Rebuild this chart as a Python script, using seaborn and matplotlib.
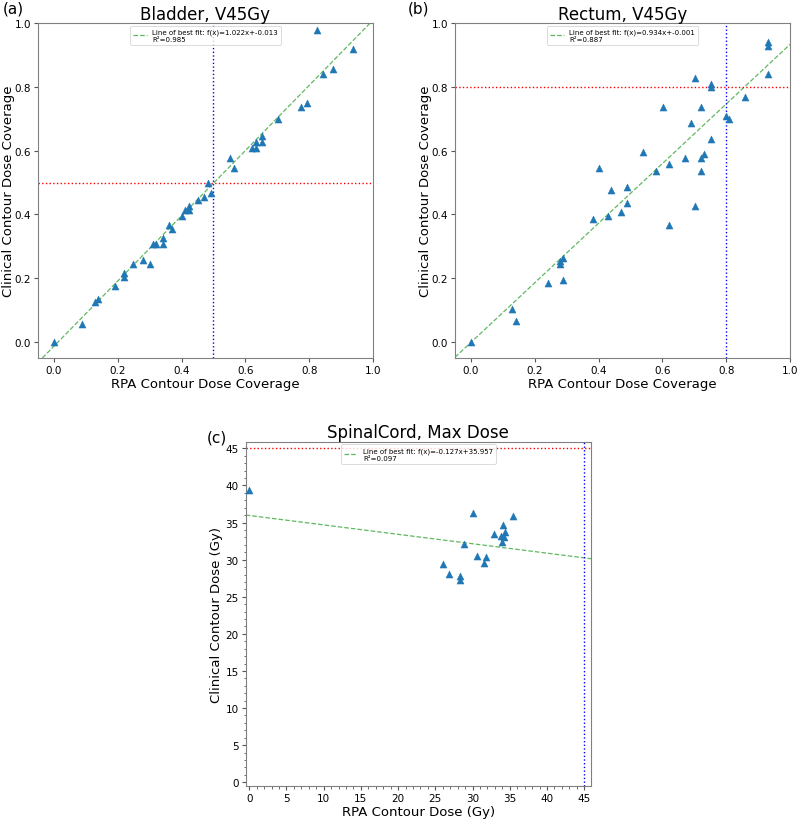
import numpy as np
import pandas as pd
import matplotlib
matplotlib.use("Agg")
import matplotlib.pyplot as plt
import seaborn as sns

# ---- Panel (a) Bladder V45Gy ----
bladder_rpa = [0.0, 0.088, 0.128, 0.139, 0.190, 0.220, 0.220, 0.249, 0.280, 0.300,
               0.310, 0.321, 0.341, 0.341, 0.361, 0.371, 0.402, 0.411, 0.422, 0.422,
               0.451, 0.471, 0.482, 0.492, 0.552, 0.563, 0.622, 0.633, 0.633, 0.653,
               0.653, 0.702, 0.774, 0.794, 0.823, 0.844, 0.875, 0.936]
bladder_clin = [0.0, 0.055, 0.124, 0.134, 0.175, 0.204, 0.215, 0.245, 0.256, 0.245,
                0.306, 0.306, 0.306, 0.326, 0.366, 0.355, 0.395, 0.415, 0.415, 0.426,
                0.445, 0.456, 0.497, 0.466, 0.577, 0.547, 0.607, 0.607, 0.627, 0.627,
                0.647, 0.698, 0.738, 0.748, 0.979, 0.839, 0.857, 0.918]
bladder_fit = (1.022, -0.013, 0.985)

# ---- Panel (b) Rectum V45Gy ----
rectum_rpa = [0.0, 0.130, 0.141, 0.240, 0.280, 0.280, 0.290, 0.290, 0.381, 0.400,
              0.431, 0.440, 0.470, 0.490, 0.490, 0.540, 0.581, 0.601, 0.620, 0.620,
              0.671, 0.690, 0.701, 0.701, 0.721, 0.721, 0.721, 0.731, 0.751, 0.751,
              0.751, 0.800, 0.810, 0.860, 0.930, 0.930, 0.930]
rectum_clin = [0.0, 0.105, 0.065, 0.184, 0.245, 0.255, 0.265, 0.195, 0.386, 0.547,
               0.396, 0.477, 0.407, 0.486, 0.436, 0.597, 0.537, 0.738, 0.558, 0.366,
               0.578, 0.688, 0.829, 0.427, 0.738, 0.578, 0.537, 0.588, 0.808, 0.798,
               0.637, 0.708, 0.698, 0.768, 0.939, 0.929, 0.839]
rectum_fit = (0.934, -0.001, 0.887)

# ---- Panel (c) SpinalCord Max Dose ----
cord_rpa = [0.0, 30.0, 35.4, 34.1, 34.4, 32.9, 33.8, 34.2, 34.0, 28.9,
            30.6, 31.8, 31.6, 26.0, 26.8, 28.3, 28.3]
cord_clin = [39.4, 36.3, 35.9, 34.7, 33.7, 33.5, 33.2, 33.1, 32.4, 32.1,
             30.5, 30.4, 29.6, 29.4, 28.1, 27.8, 27.2]
cord_fit = (-0.127, 35.957, 0.097)

fig = plt.figure(figsize=(8, 8.2), dpi=100)
ax_a = fig.add_axes([0.0475, 0.5622, 0.41875, 0.4085])
ax_b = fig.add_axes([0.56875, 0.5622, 0.41875, 0.4085])
ax_c = fig.add_axes([0.3071, 0.0406, 0.4316, 0.4195])

def panel(ax, xs, ys, fit, title, xlabel, ylabel, thr, lims, tpad, ylx):
    slope, icpt, r2 = fit
    df = pd.DataFrame({"x": xs, "y": ys})
    ax.axline((0, icpt), slope=slope, color="#3aa63a", alpha=0.8, ls="--", lw=0.9,
              label=f"Line of best fit: f(x)={slope:.3f}x+{icpt:.3f}\nR\u00b2={r2:.3f}")
    sns.scatterplot(data=df, x="x", y="y", ax=ax, marker="^", s=26,
                    color="#1f77b4", edgecolor="#1f77b4", linewidth=0.3, zorder=3)
    ax.axhline(thr, color="red", ls=":", lw=1.0)
    ax.axvline(thr, color="blue", ls=":", lw=1.0)
    ax.set_xlim(*lims)
    ax.set_ylim(*lims)
    ax.set_title(title, fontsize=12, pad=tpad)
    ax.set_xlabel(xlabel, fontsize=9.5, labelpad=1.5)
    ax.set_ylabel(ylabel, fontsize=9.5)
    ax.yaxis.set_label_coords(ylx, 0.5)
    ax.tick_params(labelsize=7.5, length=3, pad=2, color="#555555")
    ax.tick_params(which="minor", length=1.8, color="#555555")
    for sp in ax.spines.values():
        sp.set_color("#808080")
    leg = ax.legend(loc="upper center", fontsize=5, frameon=True,
                    borderaxespad=0.4, handlelength=2.0)
    leg.get_frame().set_linewidth(0.6)

panel(ax_a, bladder_rpa, bladder_clin, bladder_fit, "Bladder, V45Gy",
      "RPA Contour Dose Coverage", "Clinical Contour Dose Coverage", 0.5, (-0.05, 1.0), 1.5, -0.068)
panel(ax_b, rectum_rpa, rectum_clin, rectum_fit, "Rectum, V45Gy",
      "RPA Contour Dose Coverage", "Clinical Contour Dose Coverage", 0.8, (-0.05, 1.0), 1.5, -0.068)
panel(ax_c, cord_rpa, cord_clin, cord_fit, "SpinalCord, Max Dose",
      "RPA Contour Dose (Gy)", "Clinical Contour Dose (Gy)", 45, (-0.47, 45.9), 3.5, -0.066)

for ax in (ax_a, ax_b):
    ax.set_xticks(np.arange(0, 1.01, 0.2))
    ax.set_yticks(np.arange(0, 1.01, 0.2))
ax_c.set_xticks(np.arange(0, 46, 5))
ax_c.set_yticks(np.arange(0, 46, 5))
ax_c.set_xticks(np.arange(0, 46, 1), minor=True)
ax_c.set_yticks(np.arange(0, 46, 1), minor=True)

fig.text(0.004, 0.998, "(a)", fontsize=11, va="top")
fig.text(0.51, 0.998, "(b)", fontsize=11, va="top")
fig.text(0.259, 0.4756, "(c)", fontsize=11, va="top")

fig.savefig("out.png", dpi=100)
